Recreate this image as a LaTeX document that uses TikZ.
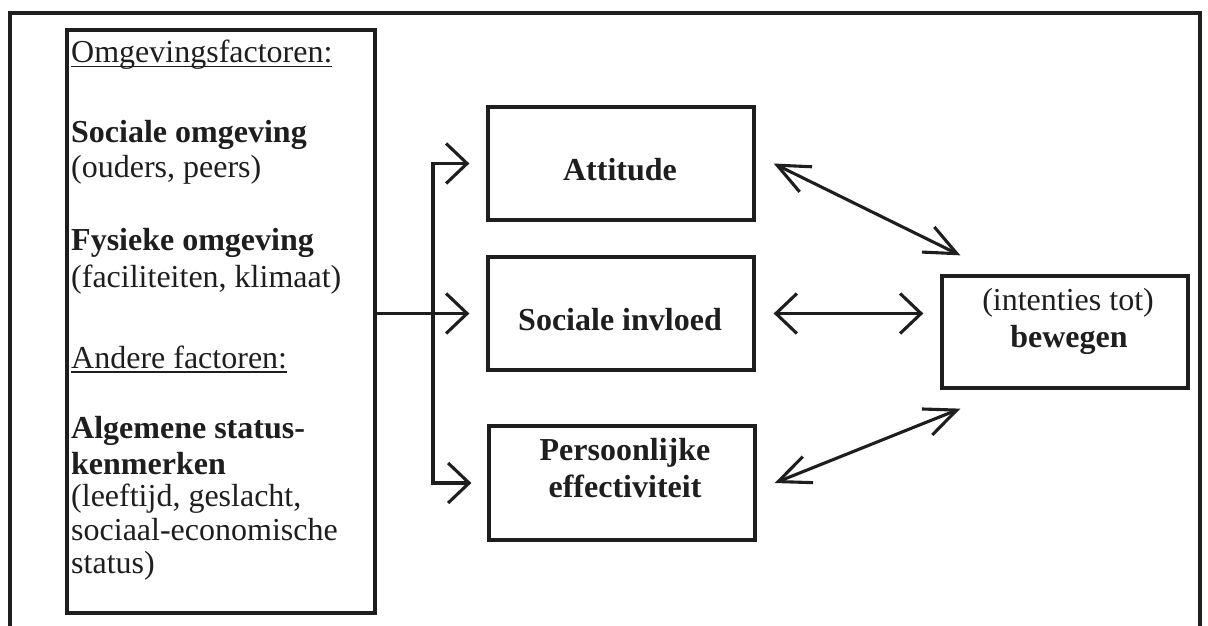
\documentclass[tikz,border=0pt]{standalone}
\usepackage{fontspec}
\setmainfont{Liberation Serif}
\usetikzlibrary{arrows.meta}
\newcommand{\wordul}[1]{\setbox0\hbox{#1}\rlap{\rule[-4.5pt]{\wd0}{1.8pt}}\box0}
\definecolor{ink}{HTML}{1E1E1E}
\begin{document}
\begin{tikzpicture}[x=1pt,y=-1pt,
  HB/.tip={Straight Barb[length=21pt,width=40pt]},
  DB/.tip={Straight Barb[length=32pt,width=28pt]},
  boxnode/.style={draw=ink, line width=3.3pt, rectangle, inner sep=0pt},
  conn/.style={draw=ink, line width=3.1pt, line join=miter},
  txt/.style={inner sep=0pt, text=ink, font=\fontsize{32}{36}\selectfont},
  lefttxt/.style={txt, anchor=base west},
  midtxt/.style={txt, anchor=base, font=\fontsize{32}{36}\selectfont\bfseries}
]
\useasboundingbox (0,0) rectangle (1208,626);
\fill[white] (0,0) rectangle (1208,626);
\clip (0,0) rectangle (1208,626);

% outer frame (continues past the bottom edge)
\draw[conn, line width=3.3pt] (10,660) -- (10,13) -- (1200,13) -- (1200,660);

% boxes
\node[boxnode, minimum width=308pt, minimum height=583pt] (env) at (221,321.5) {};
\node[boxnode, minimum width=266pt, minimum height=113pt] (att) at (621,163.5) {};
\node[boxnode, minimum width=266pt, minimum height=113pt] (si) at (621,313.5) {};
\node[boxnode, minimum width=266pt, minimum height=114pt] (pe) at (622,483) {};
\node[boxnode, minimum width=246pt, minimum height=112pt] (bew) at (1065,332) {};

% left column text
\node[lefttxt] (l1) at (71,63) {\wordul{Omgevingsfactoren:}};
\node[lefttxt] (l2) at (71,142) {\textbf{Sociale omgeving}};
\node[lefttxt] (l3) at (71,177) {(ouders, peers)};
\node[lefttxt] (l4) at (71,250) {\textbf{Fysieke omgeving}};
\node[lefttxt] (l5) at (71,287) {(faciliteiten, klimaat)};
\node[lefttxt] (l6) at (71,368) {\wordul{Andere factoren:}};
\node[lefttxt] (l7) at (71,438) {\textbf{Algemene status-}};
\node[lefttxt] (l8) at (71,474) {\textbf{kenmerken}};
\node[lefttxt] (l9) at (71,506) {(leeftijd, geslacht,};
\node[lefttxt] (l10) at (71,540) {sociaal-economische};
\node[lefttxt] (l11) at (71,573) {status)};

% middle texts
\node[midtxt] (tatt) at (620,180) {Attitude};
\node[midtxt] (tsi) at (620,330) {Sociale invloed};
\node[midtxt] (tpe1) at (625,460) {Persoonlijke};
\node[midtxt] (tpe2) at (625,497) {effectiviteit};
\node[txt, anchor=base] (tb1) at (1068,310) {(intenties tot)};
\node[midtxt] (tb2) at (1069,347) {bewegen};

% connectors
\coordinate (bk) at (433,320);
\coordinate (bwin) at ([shift={(-17,0)}]bew.west);
\draw[conn, -HB] (env.east |- si.west) -- ([shift={(-17,0)}]si.west);
\draw[conn, HB-HB] ([shift={(-17,0)}]att.west) -- (att.west -| bk) -- (pe.west -| bk) -- ([shift={(-16,0)}]pe.west);
\draw[conn, DB-DB] ([shift={(18,0)}]att.east) -- ([shift={(20,-19)}]bew.north west);
\draw[conn, HB-HB] ([shift={(18,0)}]si.east) -- (bwin |- si.east);
\draw[conn, DB-DB] ([shift={(18,0)}]pe.east) -- ([shift={(20,19)}]bew.south west);
\end{tikzpicture}
\end{document}
